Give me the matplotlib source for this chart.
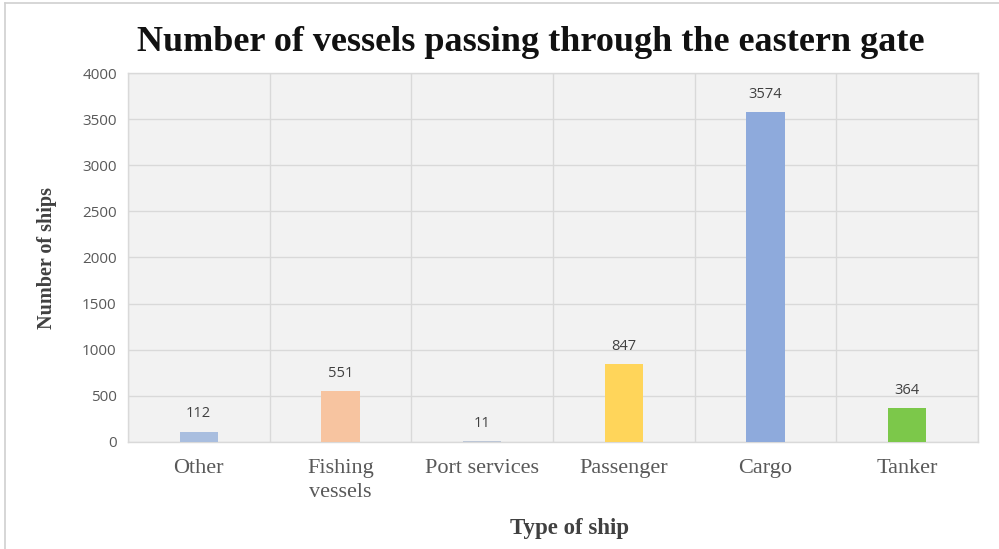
import matplotlib.pyplot as plt
import numpy as np

categories = ["Other", "Fishing\nvessels", "Port services", "Passenger", "Cargo", "Tanker"]
ships = [112, 551, 11, 847, 3574, 364]
colors = ["#a9bedf", "#f7c4a0", "#bcc6d6", "#ffd55a", "#8eaadc", "#7cc84a"]
yticks = [0, 500, 1000, 1500, 2000, 2500, 3000, 3500, 4000]

serif = "Liberation Serif"
sans = "Open Sans"

fig = plt.figure(figsize=(9.99, 5.49), dpi=100)
ax = fig.add_axes([0.128, 0.195, 0.851, 0.672])
ax.set_facecolor("#f2f2f2")

x = np.arange(len(categories))
bars = ax.bar(x, ships, width=0.27, color=colors, zorder=3)

for b, v in zip(bars, ships):
    ax.text(b.get_x() + b.get_width() / 2, v + 110, str(v), ha="center", va="bottom",
            fontsize=10.5, color="#404040", family=sans, zorder=4)

ax.set_xlim(-0.5, len(categories) - 0.5)
ax.set_ylim(0, 4000)
ax.set_yticks(yticks)
ax.set_yticklabels([str(t) for t in yticks], family=sans, fontsize=11, color="#595959")
ax.set_xticks(x)
ax.set_xticklabels(categories, family=serif, fontsize=16, color="#595959", linespacing=1.4)
ax.set_xticks(np.arange(-0.5, len(categories), 1.0), minor=True)
ax.tick_params(axis="both", which="both", length=0)
ax.tick_params(axis="x", pad=12)
ax.tick_params(axis="y", pad=8)

ax.grid(axis="y", which="major", color="#d9d9d9", linewidth=1.0, zorder=0)
ax.grid(axis="x", which="minor", color="#d9d9d9", linewidth=1.0, zorder=0)
ax.grid(axis="x", which="major", visible=False)
for s in ax.spines.values():
    s.set_color("#d9d9d9")
    s.set_linewidth(1.0)

fig.text(0.531, 0.922, "Number of vessels passing through the eastern gate", ha="center", va="center",
         family=serif, fontweight="bold", fontsize=26, color="#111111")
fig.text(0.047, 0.53, "Number of ships", rotation=90, ha="center", va="center",
         family=serif, fontweight="bold", fontsize=14.5, color="#404040")
fig.text(0.57, 0.038, "Type of ship", ha="center", va="center",
         family=serif, fontweight="bold", fontsize=16.5, color="#404040")

# thin frame around the chart area
fig.add_artist(plt.Line2D([0.005, 0.005], [0.0, 0.995], transform=fig.transFigure, color="#d0d0d0", linewidth=1.2))
fig.add_artist(plt.Line2D([0.005, 1.0], [0.995, 0.995], transform=fig.transFigure, color="#d0d0d0", linewidth=1.2))

fig.savefig("out.png", dpi=100)
